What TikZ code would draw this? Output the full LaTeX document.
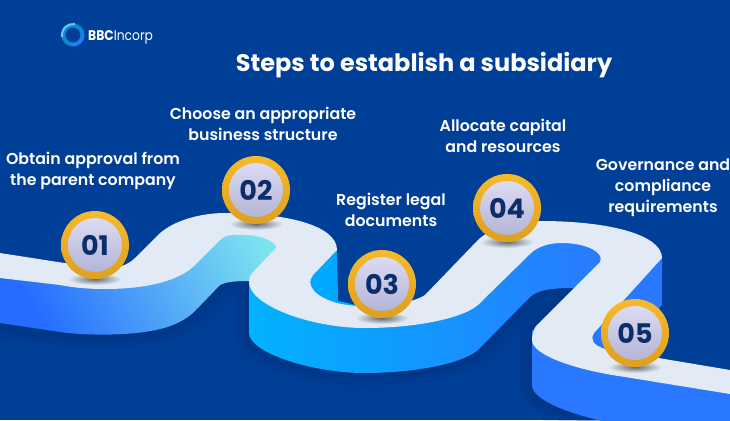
\documentclass[tikz,border=0pt]{standalone}
\usepackage{fontspec}
\setmainfont{Poppins}
\newfontfamily\semifont{Poppins SemiBold}
\newfontfamily\logofont[FakeStretch=0.88]{Poppins}
\definecolor{bgblue}{HTML}{003F98}
\definecolor{shadowblue}{HTML}{002F78}
\definecolor{roadtop}{HTML}{E2EBF5}
\definecolor{wallblue}{HTML}{2A78FF}
\definecolor{wallsky}{HTML}{00A8FF}
\definecolor{wallcyan}{HTML}{7CE2F0}
\definecolor{coinnavy}{HTML}{0B2E6B}
\definecolor{goldtop}{HTML}{F6BA2C}
\definecolor{goldlow}{HTML}{DEA01E}
\def\roadedge{(0,325) -- (60,333) .. controls (80,336) and (130,338) .. (173,325) -- (195,312) -- (222,285) .. controls (230,281) and (240,281) .. (249,282) -- (249,335) .. controls (249,352) and (310,373) .. (365,373) .. controls (410,373) and (460,365) .. (478,350) -- (532,296) .. controls (538,290) and (550,288) .. (572,288) -- (532,330) -- (532,385) .. controls (532,400) and (570,415) .. (620,425)}

\begin{document}
\begin{tikzpicture}[x=1pt, y=-1pt,
    coinring/.style={circle, minimum size=68pt, inner sep=0pt,
        top color=goldtop, bottom color=goldlow},
    coinface/.style={circle, minimum size=54pt, inner sep=0pt,
        top color=white!90!blue!90!gray, bottom color=blue!30!gray!45!white,
        text=coinnavy, font=\bfseries\fontsize{27}{27}\selectfont},
    steptext/.style={text=white, align=center,
        font=\semifont\fontsize{15.8}{21}\selectfont},
    coinspot/.style={inner color=black!55!roadtop, outer color=roadtop}
    ]
    \useasboundingbox (0,0) rectangle (730,420);
    \fill[bgblue] (0,0) rectangle (730,420);

    % soft shadow under the road
    \draw[shadowblue, line width=36pt, opacity=.12, line join=round] \roadedge;
    \draw[shadowblue, line width=24pt, opacity=.15, line join=round] \roadedge;
    \draw[shadowblue, line width=12pt, opacity=.25, line join=round] \roadedge;

    % walls
    \shade[left color=wallblue!90!blue, middle color=wallcyan!35!wallblue, right color=wallcyan, shading angle=120]
        (0,270) -- (0,323) -- (60,332) .. controls (80,335) and (140,338) .. (173,325)
        .. controls (180,322) and (188,318) .. (195,311) -- (220,285)
        .. controls (228,281) and (240,281) .. (252,281) -- (295,245) -- (260,222) -- (200,230) -- (150,262) -- (100,278) -- cycle;
    \shade[left color=cyan!12!wallsky, middle color=wallsky, right color=wallblue]
        (249,280) -- (249,333) .. controls (249,352) and (310,373) .. (365,373)
        .. controls (410,373) and (460,365) .. (478,350) -- (530,297)
        .. controls (538,290) and (550,288) .. (575,288) -- (618,258) -- (590,230) -- (500,250) -- (420,320) -- cycle;
    \fill[wallsky] (337,248) -- (338,298) .. controls (338,302) and (337,304) .. (335,304) -- (320,315) -- (295,285) -- cycle;
    \fill[wallblue] (532,330) -- (532,385) .. controls (532,400) and (570,415) .. (620,425) -- (730,440) -- (730,385) -- cycle;
    \fill[wallblue] (662,255) -- (662,305) -- (620,352) -- (610,365) -- (580,340) -- cycle;

    % road surface
    \fill[roadtop] (0,253) -- (90,267) .. controls (110,270) and (125,268) .. (135,258) -- (158,235)
        .. controls (172,221) and (200,213) .. (225,213) .. controls (285,213) and (337,225) .. (337,250)
        -- (313,275) .. controls (305,285) and (315,297) .. (337,303) .. controls (365,310) and (410,305) .. (425,295)
        -- (478,240) .. controls (490,228) and (515,221) .. (540,221) .. controls (610,221) and (662,235) .. (662,258)
        -- (594,333) .. controls (590,340) and (593,345) .. (605,349) -- (730,370) -- (730,394) -- (625,377)
        .. controls (575,370) and (532,355) .. (532,340) .. controls (532,333) and (534,329) .. (536,326)
        -- (600,262) .. controls (605,252) and (585,243) .. (562,243) .. controls (550,243) and (538,246) .. (530,254)
        -- (478,305) .. controls (460,320) and (410,328) .. (365,328) .. controls (310,328) and (249,305) .. (249,282)
        .. controls (249,277) and (251,274) .. (255,270) -- (276,248) .. controls (278,243) and (262,235) .. (245,235)
        .. controls (235,235) and (228,233) .. (220,240) -- (193,267) .. controls (175,283) and (140,289) .. (105,289)
        .. controls (90,289) and (75,288) .. (60,285) -- (0,278) -- cycle;

    % spots under the coins
    \shade[coinspot] (95,279) ellipse (27 and 6);
    \shade[coinspot] (256,224) ellipse (27 and 6);
    \shade[coinspot] (382,318) ellipse (27 and 6);
    \shade[coinspot] (507,242) ellipse (27 and 6);
    \shade[coinspot] (635,367) ellipse (27 and 6);

    % coins
    \node[coinring] (ring1) at (95,245) {};
    \node[coinface] (coin1) at (ring1) {01};
    \node[coinring] (ring2) at (256,190) {};
    \node[coinface] (coin2) at (ring2) {02};
    \node[coinring] (ring3) at (382,284) {};
    \node[coinface] (coin3) at (ring3) {03};
    \node[coinring] (ring4) at (507,208) {};
    \node[coinface] (coin4) at (ring4) {04};
    \node[coinring] (ring5) at (635,333) {};
    \node[coinface] (coin5) at (ring5) {05};

    % texts
    \node[steptext] (text1) at (93,171) {Obtain approval from\\the parent company};
    \node[steptext] (text2) at (263,124) {Choose an appropriate\\business structure};
    \node[steptext] (text3) at (391,210) {Register legal\\documents};
    \node[steptext] (text4) at (503,136) {Allocate capital\\and resources};
    \node[steptext] (text5) at (663,188) {Governance and\\compliance\\requirements};
    \node[text=white, font=\bfseries\fontsize{24}{24}\selectfont] (title) at (424,65) {Steps to establish a subsidiary};

    % logo
    \draw[cyan!70!blue, line width=4pt] (73,35) circle (9.5);
    \draw[wallblue, line width=2.5pt] (73,35) ++(-10:10) arc (-10:100:10);
    \draw[white!40!cyan, line width=2pt] (73,35) ++(170:11) arc (170:280:11);
    \node[text=white, anchor=west, inner sep=0pt, font=\logofont\fontsize{14}{14}\selectfont] (logo) at (88,37) {\textbf{BBC}Incorp};
\end{tikzpicture}
\end{document}
